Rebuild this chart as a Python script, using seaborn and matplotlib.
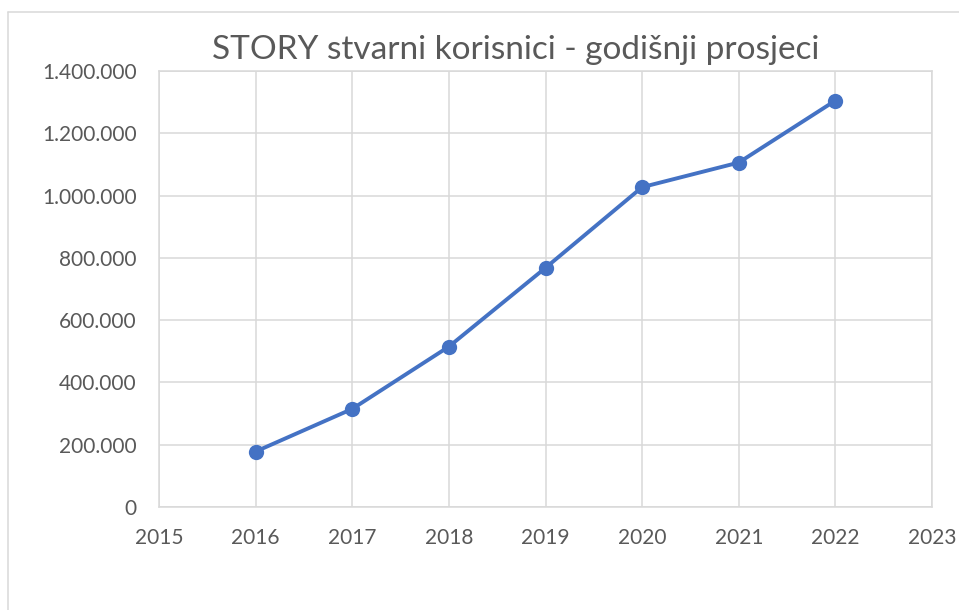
import matplotlib
matplotlib.use("Agg")
import matplotlib.pyplot as plt
from matplotlib.ticker import FuncFormatter, MultipleLocator
from matplotlib.lines import Line2D
import seaborn as sns
import pandas as pd

years = [2016, 2017, 2018, 2019, 2020, 2021, 2022]
users = [178000, 315000, 515000, 768000, 1027000, 1106000, 1305000]
title = "STORY stvarni korisnici - godišnji prosjeci"

df = pd.DataFrame({"year": years, "users": users})

sns.set_theme(style="white")
plt.rcParams["font.family"] = ["Lato", "DejaVu Sans"]

fig = plt.figure(figsize=(9.59, 6.10), dpi=100)
ax = fig.add_axes([159/959, 1-507/610, (932-159)/959, (507-71)/610])

grid_c = "#D9D9D9"
text_c = "#595959"
line_c = "#4472C4"

sns.lineplot(data=df, x="year", y="users", ax=ax, color=line_c, linewidth=2.8,
             marker="o", markersize=11, markeredgewidth=0, zorder=3)

ax.set_xlim(2015, 2023)
ax.set_ylim(0, 1400000)
ax.xaxis.set_major_locator(MultipleLocator(1))
ax.yaxis.set_major_locator(MultipleLocator(200000))
ax.yaxis.set_major_formatter(FuncFormatter(lambda v, p: f"{int(round(v)):,}".replace(",", ".")))
ax.xaxis.set_major_formatter(FuncFormatter(lambda v, p: f"{int(round(v))}"))
ax.grid(True, color=grid_c, linewidth=1.1)
for s in ax.spines.values():
    s.set_color(grid_c)
    s.set_linewidth(1.1)
ax.tick_params(axis="both", length=0, labelsize=15, labelcolor=text_c)
ax.tick_params(axis="y", pad=16)
ax.tick_params(axis="x", pad=15)
ax.set_xlabel("")
ax.set_ylabel("")

fig.text(516/959, 1-50/610, title, ha="center", va="center", fontsize=24, color=text_c)

# outer chart-area frame (left and top edges visible)
fig.add_artist(Line2D([8/959, 8/959], [0, 1-12/610], transform=fig.transFigure, color=grid_c, linewidth=1.1))
fig.add_artist(Line2D([8/959, 1], [1-12/610, 1-12/610], transform=fig.transFigure, color=grid_c, linewidth=1.1))

fig.savefig("out.png", dpi=100)
